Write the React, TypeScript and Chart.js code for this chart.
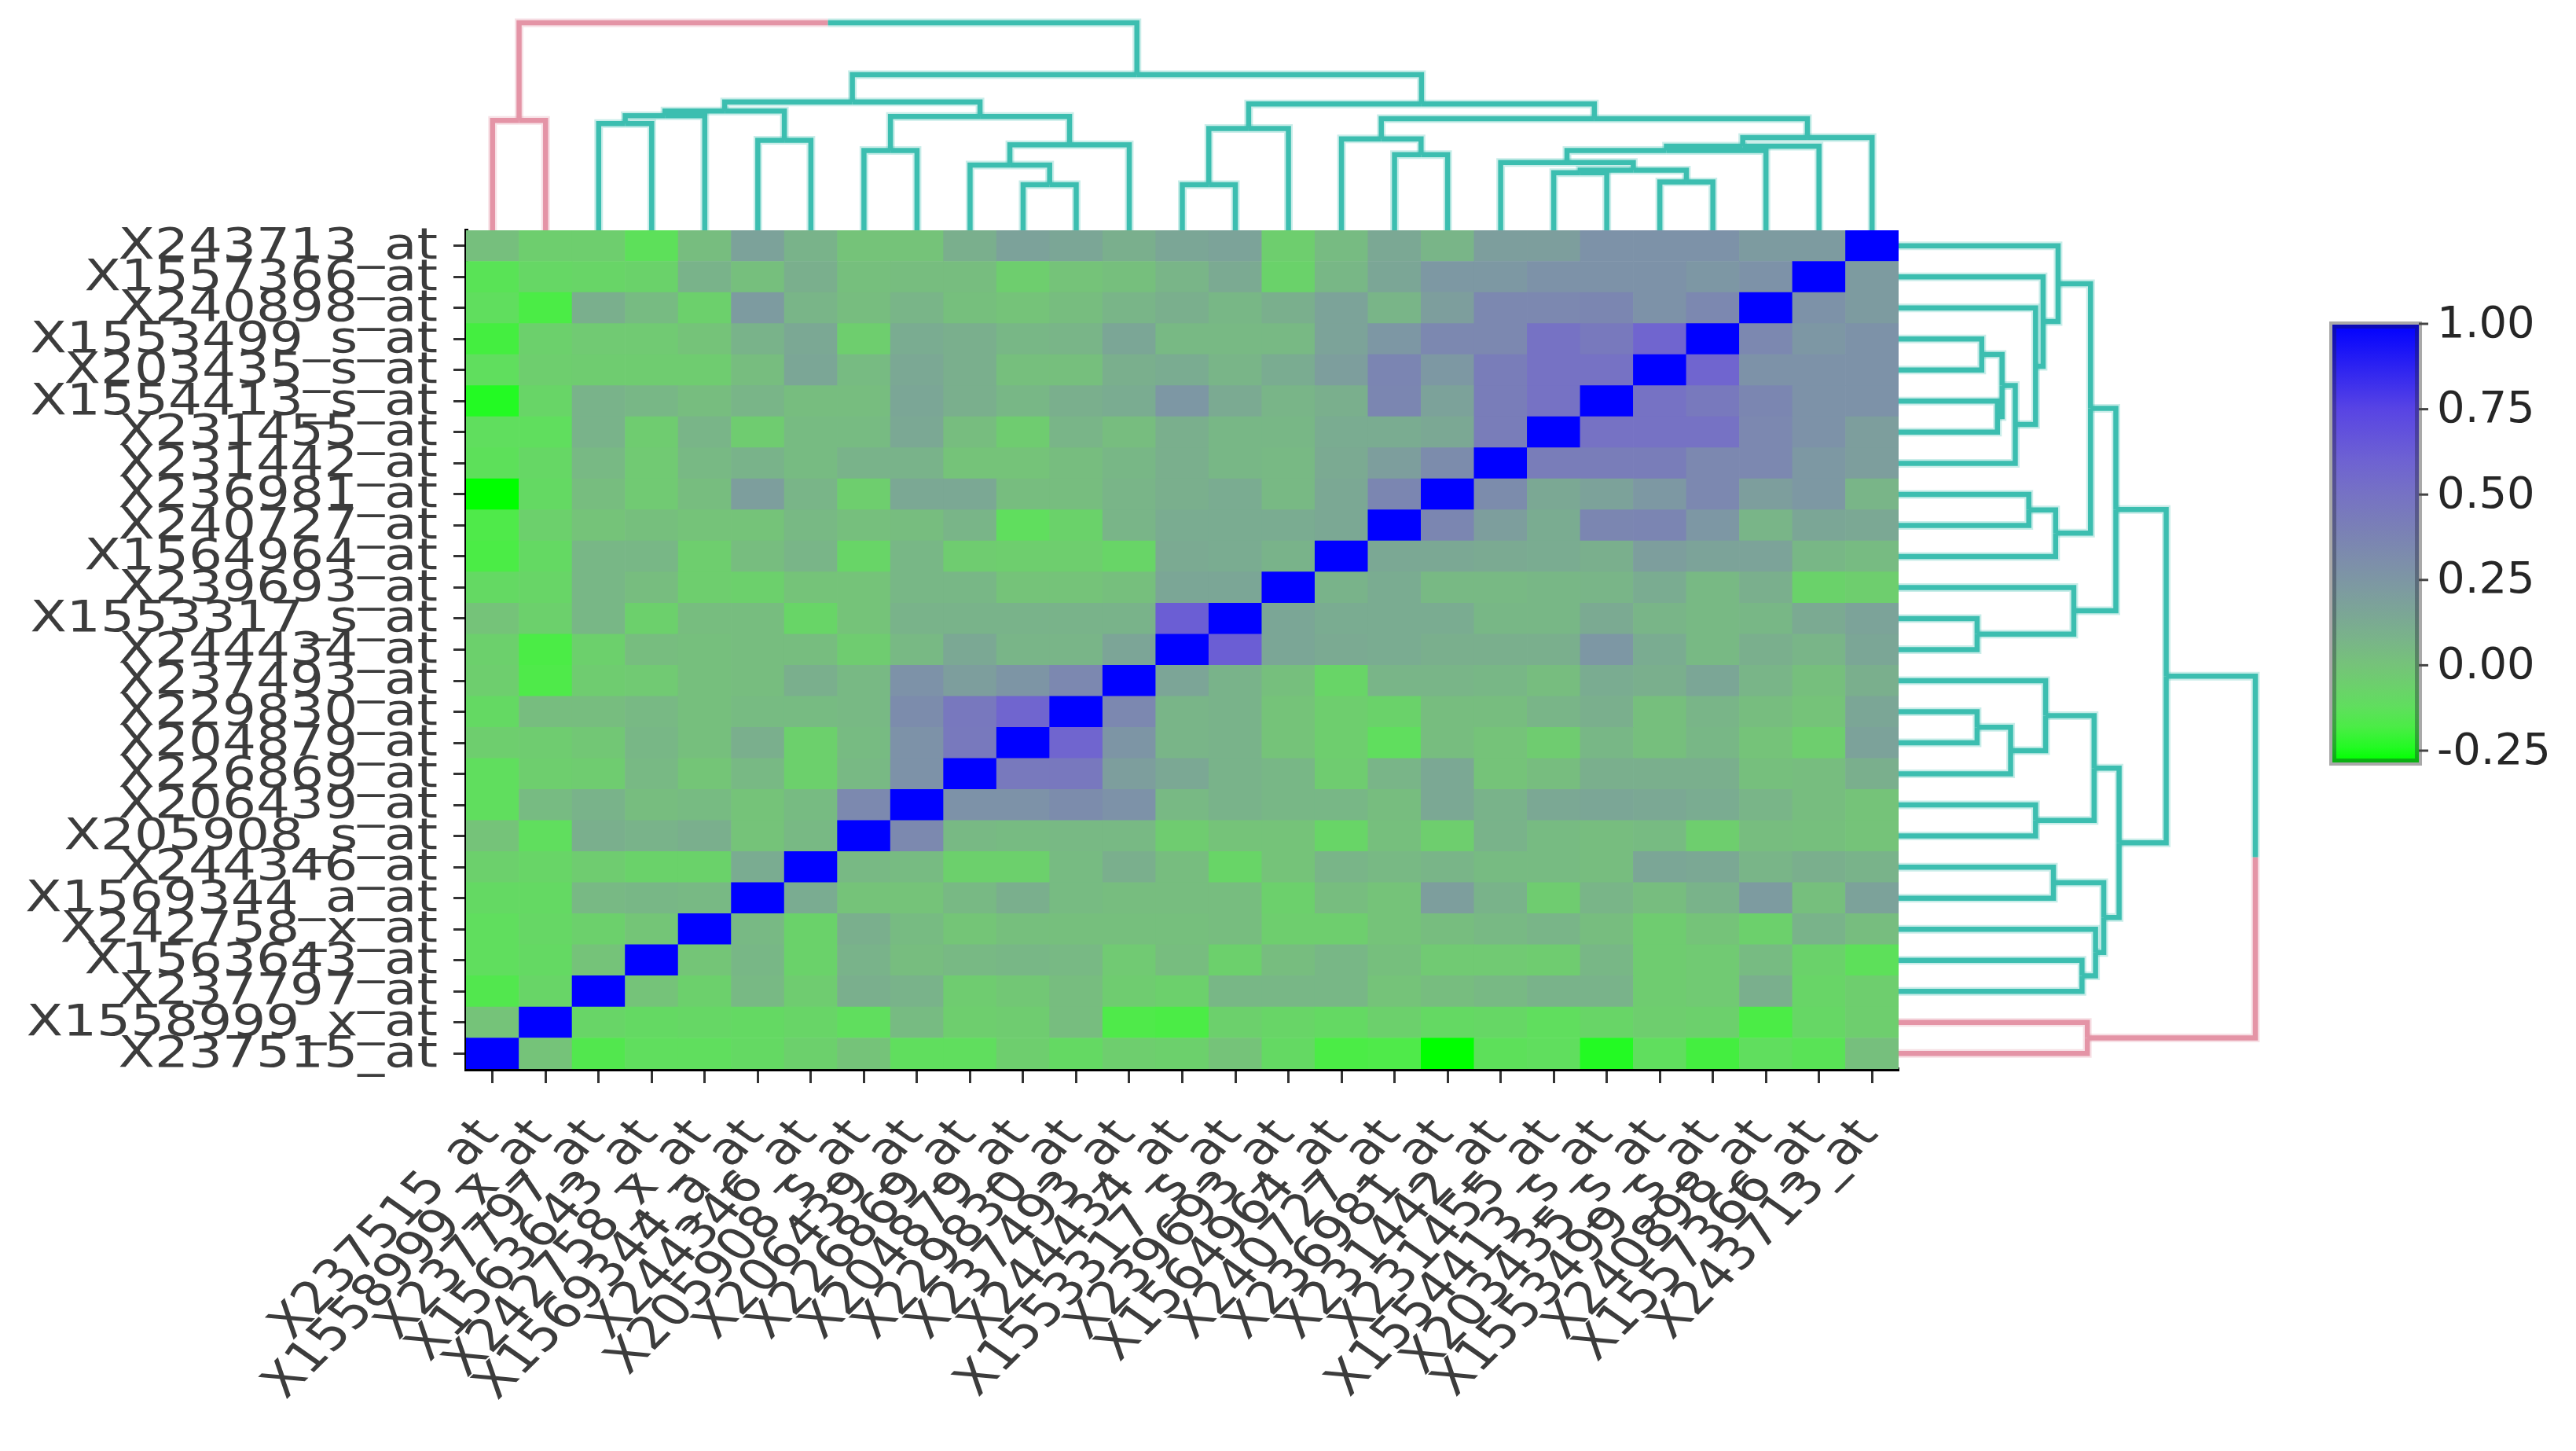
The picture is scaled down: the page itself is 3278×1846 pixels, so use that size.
import React, { useEffect, useRef } from 'react';
import { Chart, registerables } from 'chart.js';

Chart.register(...registerables);

// ---------------- DATA ----------------
// probe order along the x axis (left -> right) and along the y axis (bottom -> top)
const probes: string[] = [
  'X237515_at', 'X1558999_x_at', 'X237797_at', 'X1563643_at', 'X242758_x_at',
  'X1569344_a_at', 'X244346_at', 'X205908_s_at', 'X206439_at', 'X226869_at',
  'X204879_at', 'X229830_at', 'X237493_at', 'X244434_at', 'X1553317_s_at',
  'X239693_at', 'X1564964_at', 'X240727_at', 'X236981_at', 'X231442_at',
  'X231455_at', 'X1554413_s_at', 'X203435_s_at', 'X1553499_s_at', 'X240898_at',
  'X1557366_at', 'X243713_at',
];

// lower triangle of the correlation matrix: row i holds corr(i, 0..i-1)
const corrLower: number[][] = [
  [0.0],
  [-0.16, -0.08],
  [-0.12, -0.1, 0.0],
  [-0.12, -0.09, -0.06, -0.01],
  [-0.1, -0.1, 0.05, 0.06, 0.05],
  [-0.06, -0.08, -0.04, -0.07, -0.07, 0.12],
  [0.0, -0.12, 0.1, 0.08, 0.1, 0.0, 0.05],
  [-0.12, 0.04, 0.08, 0.03, 0.04, 0.0, 0.04, 0.34],
  [-0.12, -0.05, -0.04, 0.05, -0.01, 0.05, -0.06, 0.05, 0.28],
  [-0.05, -0.04, -0.02, 0.06, 0.02, 0.1, -0.06, 0.04, 0.28, 0.45],
  [-0.1, 0.03, 0.03, 0.05, 0.02, 0.04, 0.04, 0.05, 0.32, 0.46, 0.58],
  [-0.05, -0.17, -0.04, -0.03, 0.02, 0.03, 0.1, 0.05, 0.28, 0.2, 0.26, 0.35],
  [-0.06, -0.18, -0.06, 0.03, 0.02, 0.03, 0.03, -0.04, 0.05, 0.14, 0.07, 0.07, 0.16],
  [0.0, -0.06, 0.06, -0.06, 0.03, 0.03, -0.08, 0.0, 0.08, 0.08, 0.08, 0.08, 0.08, 0.62],
  [-0.1, -0.08, 0.06, 0.03, -0.05, -0.06, 0.0, 0.0, 0.06, 0.06, 0.0, 0.0, 0.02, 0.15, 0.15],
  [-0.18, -0.1, 0.06, 0.06, -0.05, 0.03, 0.07, -0.08, 0.06, -0.04, -0.05, -0.05, -0.08, 0.13, 0.12, 0.08],
  [-0.17, -0.06, 0.0, 0.02, 0.0, 0.0, 0.05, 0.02, 0.03, 0.07, -0.12, -0.07, 0.07, 0.12, 0.12, 0.12, 0.14],
  [-0.28, -0.1, 0.03, -0.03, 0.03, 0.2, 0.07, -0.05, 0.14, 0.14, 0.03, 0.03, 0.07, 0.1, 0.12, 0.05, 0.14, 0.36],
  [-0.13, -0.09, 0.05, -0.03, 0.05, 0.08, 0.04, 0.08, 0.08, 0.0, 0.0, 0.03, 0.06, 0.1, 0.06, 0.05, 0.13, 0.2, 0.32],
  [-0.12, -0.12, 0.08, -0.04, 0.07, -0.04, 0.04, 0.04, 0.14, 0.03, -0.04, 0.07, 0.03, 0.1, 0.06, 0.06, 0.12, 0.12, 0.14, 0.42],
  [-0.24, -0.08, 0.08, 0.06, 0.03, 0.07, 0.03, 0.03, 0.15, 0.1, 0.06, 0.1, 0.12, 0.25, 0.13, 0.07, 0.1, 0.36, 0.18, 0.42, 0.5],
  [-0.12, -0.05, -0.04, -0.04, -0.04, 0.03, 0.15, 0.04, 0.14, 0.1, 0.02, 0.02, 0.1, 0.12, 0.07, 0.12, 0.2, 0.37, 0.24, 0.42, 0.5, 0.5],
  [-0.19, -0.06, -0.03, -0.03, 0.0, 0.08, 0.14, -0.05, 0.12, 0.1, 0.06, 0.07, 0.15, 0.05, 0.05, 0.05, 0.17, 0.25, 0.35, 0.35, 0.5, 0.45, 0.58],
  [-0.12, -0.18, 0.1, 0.04, -0.06, 0.22, 0.07, 0.03, 0.07, 0.02, 0.0, 0.03, 0.07, 0.1, 0.06, 0.1, 0.17, 0.07, 0.2, 0.35, 0.35, 0.36, 0.28, 0.35],
  [-0.14, -0.09, -0.08, -0.07, 0.08, 0.02, 0.1, 0.02, 0.03, 0.03, -0.05, 0.0, 0.02, 0.07, 0.13, -0.07, 0.06, 0.15, 0.24, 0.24, 0.28, 0.28, 0.28, 0.25, 0.28],
  [0.02, -0.05, -0.05, -0.13, 0.03, 0.18, 0.08, 0.0, 0.0, 0.1, 0.18, 0.15, 0.1, 0.15, 0.17, -0.05, 0.04, 0.14, 0.07, 0.2, 0.2, 0.28, 0.28, 0.28, 0.22, 0.22],
];

// hierarchical clustering (same tree on both sides). Leaves 0..26, merge k creates node 27+k
const mergeA: number[] = [22, 20, 28, 19, 30, 31, 32, 17, 16, 35, 13, 37, 38, 10, 9, 41, 7, 43, 2, 45, 5, 46, 48, 49, 0, 51];
const mergeB: number[] = [23, 21, 27, 29, 24, 25, 26, 18, 34, 33, 14, 15, 36, 11, 40, 12, 8, 42, 3, 4, 6, 47, 44, 39, 1, 50];
const mergeHeight: number[] = [0.233, 0.277, 0.29, 0.327, 0.384, 0.405, 0.447, 0.365, 0.44, 0.538, 0.22, 0.491, 0.609, 0.22, 0.314, 0.412, 0.384, 0.548, 0.514, 0.552, 0.434, 0.575, 0.618, 0.75, 0.529, 1.0];
const pinkClusterLeaves: number[] = [0, 1];

// colour bar
const colorbarTicks: number[] = [1.0, 0.75, 0.5, 0.25, 0.0, -0.25];
const colorbarTickLabels: string[] = ['1.00', '0.75', '0.50', '0.25', '0.00', '-0.25'];
const colorbarMin = -0.28;
const colorbarMax = 1.0;

// colour map stops
const cmapStops: number[] = [-0.28, -0.24, -0.18, -0.12, -0.06, 0, 0.07, 0.14, 0.22, 0.3, 0.4, 0.5, 0.6, 0.75, 1.0];
const cmapRgb: number[][] = [
  [0, 255, 0], [35, 250, 35], [75, 236, 70], [96, 222, 94], [108, 208, 108], [117, 195, 121],
  [121, 181, 136], [123, 168, 148], [125, 155, 160], [125, 143, 170], [122, 128, 182],
  [118, 114, 196], [110, 98, 210], [88, 68, 228], [0, 0, 255],
];

// ---------------- STYLE ----------------
const TEAL = 'rgb(60,190,176)';
const TEAL_HALO = 'rgba(60,190,176,0.28)';
const PINK = 'rgb(228,148,166)';
const PINK_HALO = 'rgba(228,148,166,0.28)';
const LINE_W = 6.5;
const HALO_W = 11;
const TOP_DENDRO_PX = 264;
const RIGHT_DENDRO_PX = 454;
const Y_LABEL_FONT = '55px "DejaVu Sans"';
const X_LABEL_FONT = '57px "DejaVu Sans"';
const CB_FONT = '56px "DejaVu Sans"';
const TEXT_COLOR = '#3c3c3c';

function corr(i: number, j: number): number {
  if (i === j) return 1;
  return i > j ? corrLower[i - 1][j] : corrLower[j - 1][i];
}

function valueRgb(v: number): number[] {
  if (v <= cmapStops[0]) return cmapRgb[0];
  for (let k = 0; k < cmapStops.length - 1; k++) {
    if (v <= cmapStops[k + 1]) {
      const t = (v - cmapStops[k]) / (cmapStops[k + 1] - cmapStops[k]);
      return cmapRgb[k].map((c, n) => Math.round(c + (cmapRgb[k + 1][n] - c) * t));
    }
  }
  return cmapRgb[cmapRgb.length - 1];
}
const rgbStr = (c: number[]) => `rgb(${c[0]},${c[1]},${c[2]})`;

const overlayPlugin = {
  id: 'heatmapOverlay',
  afterDraw(chart: any) {
    const ctx: CanvasRenderingContext2D = chart.ctx;
    const xs = chart.scales.x;
    const ys = chart.scales.y;
    const area = chart.chartArea;
    const n = probes.length;

    // ---- axis labels (slightly widened text like the reference) ----
    ctx.save();
    ctx.fillStyle = TEXT_COLOR;
    ctx.textAlign = 'right';
    ctx.textBaseline = 'middle';
    ctx.font = Y_LABEL_FONT;
    probes.forEach((lab, i) => {
      const y = ys.getPixelForValue(i);
      ctx.save();
      ctx.translate(area.left - 36, y + 2);
      ctx.scale(1.23, 1);
      ctx.fillText(lab, 0, 0);
      ctx.restore();
    });
    ctx.font = X_LABEL_FONT;
    probes.forEach((lab, i) => {
      const x = xs.getPixelForValue(i);
      ctx.save();
      ctx.translate(x - 4, area.bottom + 74);
      ctx.scale(1.2, 1);
      ctx.rotate((-50 * Math.PI) / 180);
      ctx.fillText(lab, 0, 0);
      ctx.restore();
    });
    ctx.restore();

    // ---- dendrograms ----
    const drawDendro = (leafPix: (i: number) => number, hPix: (h: number) => number, topSide: boolean) => {
      const pos: number[] = [];
      const hg: number[] = [];
      const pink: boolean[] = [];
      for (let i = 0; i < n; i++) {
        pos[i] = leafPix(i);
        hg[i] = 0;
        pink[i] = pinkClusterLeaves.includes(i);
      }
      const pt = (p: number, h: number): [number, number] => (topSide ? [p, hPix(h)] : [hPix(h), p]);
      const segs: { pts: [number, number][]; pink: boolean }[] = [];
      for (let k = 0; k < mergeA.length; k++) {
        const id = n + k;
        const a = mergeA[k];
        const b = mergeB[k];
        pos[id] = (pos[a] + pos[b]) / 2;
        hg[id] = mergeHeight[k];
        pink[id] = pink[a] && pink[b];
        for (const c of [a, b]) {
          segs.push({ pts: [pt(pos[c], hg[c]), pt(pos[c], hg[id]), pt(pos[id], hg[id])], pink: pink[c] });
        }
      }
      ctx.save();
      ctx.lineJoin = 'miter';
      ctx.lineCap = 'butt';
      for (const pass of [0, 1]) {
        ctx.lineWidth = pass === 0 ? HALO_W : LINE_W;
        for (const s of segs) {
          ctx.strokeStyle = pass === 0 ? (s.pink ? PINK_HALO : TEAL_HALO) : (s.pink ? PINK : TEAL);
          ctx.beginPath();
          ctx.moveTo(s.pts[0][0], s.pts[0][1]);
          ctx.lineTo(s.pts[1][0], s.pts[1][1]);
          ctx.lineTo(s.pts[2][0], s.pts[2][1]);
          ctx.stroke();
        }
      }
      ctx.restore();
    };
    drawDendro((i) => xs.getPixelForValue(i), (h) => area.top - h * TOP_DENDRO_PX, true);
    drawDendro((i) => ys.getPixelForValue(i), (h) => area.right + h * RIGHT_DENDRO_PX, false);

    // ---- colour bar ----
    const cbL = 2964;
    const cbR = 3082;
    const cbY = (v: number) => 412 + (1 - v) * 434.4;
    const yTop = cbY(colorbarMax);
    const yBot = cbY(colorbarMin);
    ctx.save();
    ctx.fillStyle = '#a9a9a9';
    ctx.fillRect(cbL, yTop - 3, cbR - cbL, yBot - yTop + 9);
    const grad = ctx.createLinearGradient(0, yTop, 0, yBot);
    cmapStops.forEach((s, k) => {
      grad.addColorStop((colorbarMax - s) / (colorbarMax - colorbarMin), rgbStr(cmapRgb[k]));
    });
    ctx.fillStyle = grad;
    ctx.fillRect(cbL + 4, yTop + 1, cbR - cbL - 8, yBot - yTop + 1);
    ctx.strokeStyle = 'rgba(30,30,50,0.35)';
    ctx.lineWidth = 5;
    ctx.strokeRect(cbL + 6.5, yTop + 3.5, cbR - cbL - 13, yBot - yTop - 4);
    ctx.strokeStyle = '#444';
    ctx.lineWidth = 3;
    ctx.font = CB_FONT;
    ctx.fillStyle = '#262626';
    ctx.textAlign = 'left';
    ctx.textBaseline = 'middle';
    colorbarTicks.forEach((v, k) => {
      const y = cbY(v);
      ctx.beginPath();
      ctx.moveTo(cbR - 4, y);
      ctx.lineTo(cbR + 8, y);
      ctx.stroke();
      ctx.fillText(colorbarTickLabels[k], 3101, y + 2);
    });
    ctx.restore();
  },
};

export default function App() {
  const canvasRef = useRef<HTMLCanvasElement | null>(null);

  useEffect(() => {
    const canvas = canvasRef.current;
    if (!canvas) return;
    const n = probes.length;
    const datasets = probes.map((name, i) => ({
      label: name,
      data: probes.map(() => [i - 0.5, i + 0.5]),
      backgroundColor: probes.map((_, j) => rgbStr(valueRgb(corr(i, j)))),
      borderWidth: 0,
      barPercentage: 1,
      categoryPercentage: 1,
      grouped: false,
    }));

    const chart = new Chart(canvas, {
      type: 'bar',
      data: { labels: probes, datasets: datasets as any },
      options: {
        responsive: false,
        animation: false,
        devicePixelRatio: 1,
        layout: { padding: { left: 0, top: 293, right: 862, bottom: 0 } },
        plugins: { legend: { display: false }, tooltip: { enabled: false }, title: { display: false } },
        scales: {
          x: {
            type: 'category',
            offset: true,
            grid: { display: true, drawOnChartArea: false, drawTicks: true, tickLength: 18, tickWidth: 3, tickColor: '#333', offset: false },
            border: { display: true, color: '#000', width: 5 },
            ticks: { display: false },
            afterFit: (s: any) => { s.height = 1846 - 1360; },
          },
          y: {
            type: 'linear',
            min: -0.5,
            max: n - 0.5,
            afterBuildTicks: (s: any) => { s.ticks = probes.map((_, i) => ({ value: i })); },
            grid: { display: true, drawOnChartArea: false, drawTicks: true, tickLength: 16, tickWidth: 3, tickColor: '#333' },
            border: { display: true, color: '#000', width: 5 },
            ticks: { display: false },
            afterFit: (s: any) => { s.width = 593; },
          },
        },
      } as any,
      plugins: [overlayPlugin],
    });
    return () => chart.destroy();
  }, []);

  return (
    <div style={{ position: 'absolute', left: 0, top: 0, width: 3278, height: 1846, background: '#fff' }}>
      <canvas ref={canvasRef} width={3278} height={1846} style={{ width: 3278, height: 1846, display: 'block' }} />
    </div>
  );
}
